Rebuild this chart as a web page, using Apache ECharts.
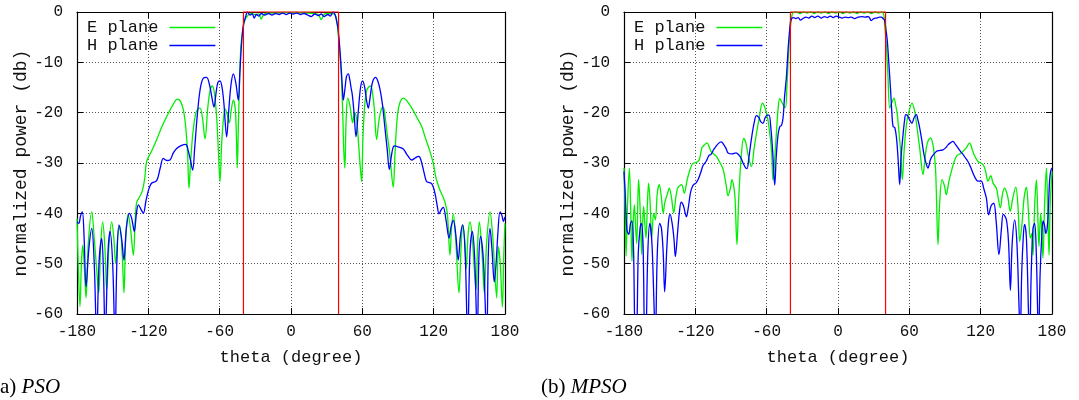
<!DOCTYPE html>
<html>
<head>
<meta charset="utf-8">
<script src="https://cdn.jsdelivr.net/npm/echarts@6/dist/echarts.min.js"></script>
<style>
html,body{margin:0;padding:0;background:#fff;}
#chart{width:1079px;height:400px;}
</style>
</head>
<body>
<div id="chart"></div>
<script>
// ---------- data ----------
const xTicks = [-180, -120, -60, 0, 60, 120, 180];
const yTicks = [0, -10, -20, -30, -40, -50, -60];
const seriesNames = ['E plane', 'H plane'];
const panelCaptions = [['(a) ', 'PSO'], ['(b) ', 'MPSO']];
const xName = 'theta (degree)';
const yName = 'normalized power (db)';

// mask (red): theta, dB
const maskTheta = [-40, -40, 40, 40];
const maskValue = [-60, 0, 0, -60];

// (a) PSO, E plane
const psoE = [[-180,-41],[-179,-50],[-177.5,-58.5],[-176.3,-50],[-175.2,-46.3],[-174,-50],[-172.4,-56.8],[-170.5,-46],[-167.6,-39.7],[-165.5,-45],[-163.5,-51],[-161.7,-55.8],[-160,-46],[-158.4,-41.7],[-156.5,-47],[-155,-55.2],[-153,-46],[-150.8,-41.7],[-149,-45],[-147.5,-50],[-145.5,-44],[-144,-42.5],[-142,-48],[-140.5,-55.8],[-139,-45],[-137,-40.1],[-135,-43],[-132.6,-48.3],[-131,-41],[-129.8,-37.8],[-128,-37],[-125,-35.5],[-123,-33],[-121.4,-29.7],[-117,-27.5],[-113,-25.4],[-109,-23],[-104.6,-20.8],[-99,-18.3],[-95.6,-17.3],[-93,-17.7],[-90.5,-19.5],[-88.5,-23],[-87,-28],[-85.8,-35],[-84.5,-30],[-82.5,-24],[-80,-20],[-78,-19.2],[-76.5,-19.1],[-74.5,-21],[-72.3,-25.2],[-70,-19],[-68,-15.5],[-66.2,-14.7],[-64.5,-16],[-62.5,-21],[-61,-28],[-59.7,-33.7],[-58.3,-26],[-56.5,-20.5],[-55.3,-19.3],[-53.5,-20.5],[-51.9,-22],[-50.3,-19.5],[-48.5,-17.5],[-47,-19],[-46,-24],[-45.2,-31],[-44.2,-22],[-42.3,-7.4],[-40.5,-3.5],[-38.7,-1.6],[-36,-0.6],[-33,-0.3],[-30,-0.5],[-27,-0.4],[-25.2,-1.4],[-23,-0.5],[-20,-0.2],[-15,-0.2],[-10,-0.2],[-5,-0.1],[0,-0.1],[5,-0.1],[10,-0.2],[15,-0.2],[20,-0.3],[23,-0.5],[25.5,-1.5],[27.5,-0.6],[30,-0.3],[33,-0.3],[36,-0.4],[38,-1.0],[39.5,-3.8],[41,-8],[42.3,-12.5],[43.5,-20],[44.3,-27],[45.3,-31],[46.3,-22],[47.7,-17.1],[49.5,-18.5],[51,-21],[51.8,-22],[53.5,-20],[55,-21],[56.5,-25],[58,-30],[59.4,-33.7],[60.5,-25],[62,-18.5],[63.4,-15.8],[65,-15],[67,-14.7],[68.5,-16],[70,-19],[72,-25.3],[74,-21.5],[76,-19.3],[77.6,-18.9],[79,-20.5],[81,-24.4],[83,-28],[86,-34.8],[87.5,-28],[89,-22],[91,-18.5],[94.4,-17.1],[98,-17.8],[102.6,-19.5],[106,-21],[110,-22.8],[113,-25],[116.6,-27.5],[119.7,-30.1],[122,-33],[125.3,-35.4],[127.5,-36.5],[129.5,-37.8],[131.5,-40],[133.7,-48.3],[135,-43],[136.5,-40.1],[138.5,-45],[141.3,-55.8],[143,-47],[144.4,-42.3],[146,-45],[147.4,-51],[149,-44],[150.6,-41.7],[152.5,-45],[155.6,-55.1],[157,-46],[158.4,-41.7],[160.5,-47],[162.6,-55.8],[164.5,-46],[167.4,-39.7],[169.5,-44],[171.5,-52],[173,-56.8],[174.4,-46.6],[176,-50],[177.8,-58.6],[179,-48],[180,-42]];

// (a) PSO, H plane
const psoH = [[-180,-41.7],[-178.5,-42],[-177,-40.5],[-175.5,-39.7],[-174,-45],[-172.4,-54.6],[-170,-47],[-167.6,-43],[-165.5,-50],[-163.4,-65],[-161.5,-50],[-159.2,-45],[-157.7,-52],[-156.3,-65],[-154,-48],[-152.2,-43.6],[-150,-50],[-148,-65],[-146.5,-50],[-144.7,-42.3],[-142.5,-45],[-140.5,-49.3],[-138.5,-43],[-136,-40],[-134,-41],[-131.8,-43.6],[-130,-40],[-128.4,-38.3],[-126,-39.3],[-124.2,-40],[-122,-37.5],[-120,-35.5],[-118.5,-34.5],[-117.2,-34],[-113,-33.5],[-110,-31],[-107.4,-29.1],[-104.5,-29.5],[-101.8,-29.4],[-99,-28],[-96.2,-27.1],[-92,-26.5],[-88.5,-26.3],[-86.5,-27.5],[-84.5,-29.5],[-82.7,-31.4],[-81,-27],[-79,-21],[-76.5,-15.5],[-74,-13.2],[-71,-13],[-68.5,-14.5],[-66.5,-17],[-64.8,-18.9],[-63,-16],[-61.5,-14],[-59.7,-13.7],[-58,-15],[-56.5,-18],[-54.1,-24.8],[-52.5,-20],[-50.5,-14.5],[-48.5,-12.3],[-46.5,-14],[-44.3,-17.5],[-43,-12],[-41.5,-6],[-40,-2.5],[-38,-0.8],[-36.7,0],[-34.5,-0.6],[-32.5,-0.4],[-31,-1.2],[-29,-0.5],[-27,-0.8],[-25,-0.3],[-22,-0.6],[-19,-0.3],[-16,-0.6],[-13,-0.3],[-10,-0.5],[-7,-0.2],[-4,-0.5],[-1,-0.2],[2,-0.4],[5,-0.2],[8,-0.5],[11,-0.3],[14,-0.6],[17,-0.9],[20,-0.4],[23,-0.7],[25.5,-0.4],[28,-0.9],[31,-0.5],[33,-0.8],[35.3,0],[37,-0.5],[38.5,-2],[39.5,-3.2],[41,-7],[42.3,-11.5],[43.2,-15],[44,-17.5],[45.5,-15],[46.7,-12.8],[48.2,-12.3],[49.5,-13.5],[50.5,-15],[51.6,-16.5],[53,-20],[54.7,-24.8],[56.5,-20],[58.5,-15],[60.3,-13.7],[62,-15],[63.5,-17.5],[65,-19.1],[66.5,-17],[68.5,-14],[71.2,-13],[73,-13.7],[75,-15.5],[77,-18.5],[79,-23],[81,-27.5],[82.7,-31.3],[84.5,-28.5],[86,-26.8],[87.5,-26.6],[90,-26.8],[94.4,-27.2],[98,-28.5],[101.5,-29.4],[104.5,-29],[107,-28.7],[108.5,-28.9],[110.5,-30.5],[112.5,-32.5],[114.1,-33.7],[116.5,-33.9],[118.3,-34.1],[120,-35],[121.5,-36.5],[123,-38.5],[124.5,-40.1],[126.5,-39.2],[128.1,-38.8],[130.5,-41.5],[132.9,-44.9],[134.8,-42.5],[136.5,-41.4],[138.5,-44],[140.7,-49.3],[142.5,-44.5],[144.4,-42.3],[146.5,-48],[148.6,-65],[150.5,-48],[152.5,-43.6],[154.5,-49],[156.7,-65],[158,-49],[159.5,-44.6],[162,-50],[164.6,-65],[166,-48],[167.4,-43],[169,-47],[171,-53.6],[172.5,-50],[174,-44],[175.8,-39.7],[177.5,-40.5],[178.6,-41.6],[180,-40.7]];

// (b) MPSO, E plane
const mpsoE = [[-180,-31],[-179,-40],[-178.3,-48.5],[-177,-38],[-175.5,-31],[-174.3,-40],[-173.3,-49.5],[-172.3,-42],[-171.3,-38.3],[-170.2,-43],[-169.3,-46],[-168.4,-38],[-167.7,-33.3],[-166.3,-40],[-165.1,-48.2],[-164.3,-42],[-163.5,-38.6],[-162.5,-42],[-161.5,-44.9],[-160.3,-38],[-159.3,-34],[-158,-38],[-156.7,-44.9],[-155,-40],[-153.6,-41.3],[-152,-36],[-150.3,-34.3],[-148.5,-37],[-147,-40],[-145.8,-38],[-144.7,-37],[-143.3,-36],[-141.9,-35],[-140,-37],[-138.2,-39.9],[-136.5,-37],[-134.9,-35],[-133,-34.5],[-131.5,-34.3],[-129.3,-36],[-127,-33.5],[-125,-31.7],[-122.5,-30.2],[-120.8,-30],[-118.5,-29.8],[-116.6,-29.3],[-114.5,-27],[-112.4,-26.4],[-110.2,-26],[-108,-27],[-106.8,-27.7],[-104,-28.3],[-102.3,-28.7],[-99.8,-29.7],[-97,-31],[-95.6,-32.3],[-94,-34.5],[-92.5,-36.5],[-90.5,-35],[-89.2,-33.3],[-87.8,-34.5],[-86.6,-37],[-85,-46.2],[-83.5,-37],[-81.5,-29],[-79.3,-25.1],[-77.5,-26],[-75.5,-28.5],[-72.8,-30.7],[-70.5,-27],[-68.5,-24],[-66.2,-21],[-63.6,-18.1],[-61.5,-19],[-59.2,-21.1],[-57.2,-24.5],[-55.8,-28],[-54.7,-33.4],[-53.2,-29],[-51.8,-24],[-50.3,-19],[-49,-17.2],[-47.5,-17.8],[-46,-18.5],[-44.2,-19],[-43,-15],[-41.8,-9],[-40.5,-4],[-39.5,-1.9],[-38.1,-0.2],[-35,0],[-32,-0.3],[-29,0],[-26,-0.2],[-23,0],[-20,-0.3],[-17,0],[-14,-0.2],[-11,0],[-8,-0.3],[-5,0],[-2,-0.2],[1,0],[4,-0.3],[7,0],[10,-0.2],[13,0],[16,-0.3],[19,0],[22,-0.2],[25,0],[28,-0.3],[31,0],[34,-0.2],[37,0],[38.5,-0.5],[39.2,-2.5],[40.5,-6],[42,-12.5],[43.5,-19.1],[45,-18.2],[47.1,-17.1],[48.5,-18.5],[49.9,-20.4],[51.3,-24],[52.7,-27.7],[54.1,-33.3],[55.5,-28],[57.5,-22.4],[60,-19.5],[62.2,-18.1],[64.5,-19.7],[66.5,-23],[68.7,-27],[71.5,-32.3],[73,-29.5],[74.3,-27],[76,-25.5],[77.9,-25],[79.5,-26],[80.7,-27.7],[82,-31],[82.7,-35.6],[84.1,-46.2],[85.5,-38],[87.5,-33.3],[89.5,-34.5],[91.1,-36.3],[93,-34],[95.3,-31.7],[99.5,-28.7],[103.7,-28],[107.9,-27],[110.7,-26],[112.5,-27],[114.4,-28.3],[117.7,-29.7],[120,-30],[122,-30.3],[124,-31.5],[126.2,-33.6],[128.5,-32.5],[130.4,-34],[133.2,-35],[134.8,-37],[136.5,-38.9],[138.5,-36],[140.2,-35],[142,-36],[143,-37],[144.9,-39.6],[147,-37],[149.5,-34.8],[151.5,-39],[152.8,-45.6],[154.8,-42],[156.5,-37],[158.5,-34.8],[160,-39],[161.8,-44.9],[163,-44],[164,-48.3],[165.5,-38],[166.9,-33.4],[168,-40],[169,-46.6],[170.5,-40],[171.5,-44],[172.4,-48.9],[173.8,-38],[175.3,-31],[176.5,-40],[177.5,-48.3],[178.5,-38],[180,-31.7]];

// (b) MPSO, H plane
const mpsoH = [[-180,-31.7],[-179,-36],[-177.5,-43.3],[-176,-44.2],[-174.5,-42],[-173.3,-41.5],[-172,-47],[-170.5,-65],[-169.6,-65],[-168,-48],[-166.5,-43],[-165.4,-42],[-164,-46],[-162.5,-65],[-161.8,-65],[-160,-48],[-158.4,-42],[-156.5,-46],[-154.5,-60],[-153.6,-65],[-152,-48],[-150,-42],[-148.5,-43],[-147,-48],[-145.8,-55.6],[-144,-47],[-142.5,-41.5],[-141.2,-40.2],[-139.5,-42],[-138,-45],[-136.8,-48.6],[-135,-44],[-133.5,-40],[-131.9,-37.8],[-130,-38.5],[-128.5,-40],[-127.5,-40.7],[-126,-39],[-124.5,-36.5],[-123.3,-35.2],[-121.5,-34.3],[-119.5,-34],[-117.5,-33.2],[-115.2,-31.7],[-113.5,-30.5],[-111,-29.7],[-108.5,-28.5],[-106.8,-28.3],[-104.5,-27.3],[-102.6,-26.7],[-100.5,-26.1],[-98.2,-25.8],[-96,-26.4],[-94,-27.2],[-92.5,-28],[-89,-28.2],[-85.8,-28],[-83,-28.5],[-81.6,-29],[-79.5,-30.2],[-77.5,-31],[-76.5,-31.1],[-75,-29],[-73,-25.5],[-70.5,-22],[-68.6,-20.6],[-66.5,-21],[-65,-21.8],[-63.1,-22.1],[-61.3,-21],[-59.5,-20.5],[-58,-20.5],[-56.5,-23],[-55,-27.5],[-53.2,-34.4],[-52,-29],[-50.5,-24.5],[-49,-22.8],[-47.5,-22.5],[-46.2,-21],[-45,-17],[-43.4,-12.9],[-42,-7.5],[-41,-4.5],[-40,-2],[-39,-1.3],[-37.5,-1.1],[-35.5,-1.3],[-33.5,-1.1],[-31.5,-1.6],[-29.5,-1.3],[-27,-1.0],[-24.5,-1.2],[-22,-0.8],[-19.5,-1.1],[-17,-0.8],[-14,-1.2],[-11.5,-0.9],[-9,-1.1],[-6.5,-0.8],[-4,-1.1],[-1.5,-0.8],[1,-1.0],[3.5,-1.2],[6,-1.0],[8.5,-1.1],[11,-1.0],[14,-1.3],[17,-1.0],[20,-0.9],[23,-1.0],[25.5,-0.9],[28,-1.7],[30,-1.3],[32.5,-1.2],[35,-1.0],[36.5,-1.0],[38,-1.3],[39.2,-1.6],[40.5,-3.8],[41.5,-5.8],[43,-11],[44.3,-15.8],[45.3,-20],[46.3,-22.7],[47.8,-23],[49.2,-25],[50.5,-29],[51.9,-34.3],[53,-29],[54.7,-24.4],[56,-21.5],[57,-20.4],[58.5,-20.6],[60,-21.3],[62.2,-22.1],[64,-21],[65.9,-20.4],[67.3,-21.5],[68.7,-23],[70.5,-25.5],[72.3,-28.3],[74,-30],[75.7,-31],[77.5,-29.5],[79.1,-28.7],[82.7,-27.7],[86,-27.5],[88.3,-27.4],[90.5,-27],[92.5,-26.4],[94.5,-26],[96.7,-25.7],[98.8,-26.3],[100.9,-27],[103,-27.7],[105.1,-28.3],[107.2,-29],[109.3,-29.7],[111.5,-30.8],[113.5,-32],[115.5,-33],[117.7,-33.6],[120.5,-33.6],[122.5,-35],[124.8,-37],[126.7,-40.3],[128.8,-38.5],[131,-38],[133,-41.5],[135.4,-48.2],[137.5,-43],[139,-40.2],[141.6,-41.2],[143.5,-46],[145,-55.3],[146.5,-46],[148.6,-41.3],[150.5,-46],[152.2,-58],[153.3,-65],[154.5,-52],[156,-44],[157,-42.2],[158.5,-45],[160.5,-62],[161.2,-65],[162.5,-52],[164,-43],[165.4,-42],[166.8,-48],[168.7,-65],[170,-52],[171.5,-44],[172.5,-41.5],[173.8,-42.5],[174.8,-44],[176.3,-42],[177.3,-37],[178,-33.4],[179,-31.5],[180,-31]];

// ---------- chart ----------
const MONO = '"Liberation Mono", "DejaVu Sans Mono", monospace';
const SERIF = '"Liberation Serif", "DejaVu Serif", serif';
const TXT = '#111';
const grids = [
  {left: 77, top: 12, width: 428, height: 302},
  {left: 624, top: 12, width: 428, height: 302}
];
const panels = [[psoE, psoH], [mpsoE, mpsoH]];
const xMin = xTicks[0], xMax = xTicks[xTicks.length - 1], xStep = xTicks[1] - xTicks[0];
const yMin = Math.min(...yTicks), yMax = Math.max(...yTicks), yStep = Math.abs(yTicks[1] - yTicks[0]);

const xAxes = [], yAxes = [], series = [], legends = [], titles = [];
grids.forEach((g, i) => {
  const tick = {show: true, inside: true, length: 6, lineStyle: {color: '#000', width: 1}};
  const line = {show: true, onZero: false, lineStyle: {color: '#000', width: 1.2}};
  xAxes.push({
    gridIndex: i, type: 'value', position: 'bottom', min: xMin, max: xMax, interval: xStep,
    axisLine: line, axisTick: tick,
    axisLabel: {fontFamily: MONO, fontSize: 16, color: TXT, margin: 10},
    splitLine: {show: true, lineStyle: {color: '#555', width: 1, type: [1, 2]}},
    name: xName, nameLocation: 'middle', nameGap: 35,
    nameTextStyle: {fontFamily: MONO, fontSize: 17, color: TXT}
  });
  xAxes.push({
    gridIndex: i, type: 'value', position: 'top', min: xMin, max: xMax, interval: xStep,
    axisLine: line, axisTick: tick, axisLabel: {show: false}, splitLine: {show: false}
  });
  yAxes.push({
    gridIndex: i, type: 'value', position: 'left', min: yMin, max: yMax, interval: yStep,
    axisLine: line, axisTick: tick,
    axisLabel: {fontFamily: MONO, fontSize: 16, color: TXT, margin: 14},
    splitLine: {show: true, lineStyle: {color: '#555', width: 1, type: [1, 2]}},
    name: yName, nameLocation: 'middle', nameGap: 46,
    nameTextStyle: {fontFamily: MONO, fontSize: 18, color: TXT}
  });
  yAxes.push({
    gridIndex: i, type: 'value', position: 'right', min: yMin, max: yMax, interval: yStep,
    axisLine: line, axisTick: tick, axisLabel: {show: false}, splitLine: {show: false}
  });
  const [eData, hData] = panels[i];
  series.push({
    name: seriesNames[0], type: 'line', xAxisIndex: 2 * i, yAxisIndex: 2 * i,
    data: eData, symbol: 'none', smooth: 0.35, clip: true,
    lineStyle: {color: '#00ee00', width: 1.3}, itemStyle: {color: '#00ee00'}
  });
  series.push({
    name: seriesNames[1], type: 'line', xAxisIndex: 2 * i, yAxisIndex: 2 * i,
    data: hData, symbol: 'none', smooth: 0.35, clip: true,
    lineStyle: {color: '#0000ff', width: 1.3}, itemStyle: {color: '#0000ff'}
  });
  series.push({
    name: 'mask', type: 'line', xAxisIndex: 2 * i, yAxisIndex: 2 * i,
    data: maskTheta.map((t, k) => [t, maskValue[k]]), symbol: 'none', clip: false,
    lineStyle: {color: '#ff0000', width: 1.2}, z: 5, silent: true
  });
  legends.push({
    data: seriesNames, left: g.left + 5, top: 14, orient: 'vertical', align: 'right',
    icon: 'rect', itemWidth: 46, itemHeight: 1.5, itemGap: 1,
    textStyle: {fontFamily: MONO, fontSize: 17, color: TXT, padding: [0, 6, 0, 0]},
    selectedMode: false
  });
  titles.push({
    text: '{a|' + panelCaptions[i][0] + '}{b|' + panelCaptions[i][1] + '}',
    left: i === 0 ? -7 : 541, top: 377, padding: 0,
    textStyle: {rich: {
      a: {fontFamily: SERIF, fontSize: 21, fontWeight: 'normal', color: '#000'},
      b: {fontFamily: SERIF, fontSize: 21, fontWeight: 'normal', fontStyle: 'italic', color: '#000'}
    }}
  });
});

const chart = echarts.init(document.getElementById('chart'), null, {renderer: 'canvas'});
chart.setOption({
  animation: false,
  backgroundColor: '#fff',
  title: titles,
  legend: legends,
  grid: grids,
  xAxis: xAxes,
  yAxis: yAxes,
  series: series
});
</script>
</body>
</html>
